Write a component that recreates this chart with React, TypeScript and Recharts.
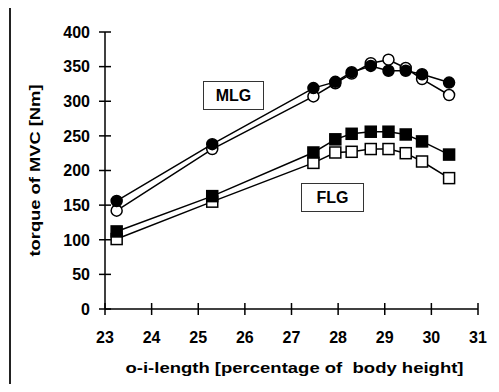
import { LineChart, Line, XAxis, YAxis } from "recharts";

const lengths = [23.25, 25.3, 27.47, 27.94, 28.29, 28.7, 29.08, 29.45, 29.8, 30.38];
const mlgFilled = [156, 238, 319, 328, 342, 351, 344, 344, 339, 327];
const mlgOpen = [142, 231, 307, 326, 340, 355, 360, 348, 332, 309];
const flgFilled = [112, 163, 226, 245, 253, 256, 256, 252, 242, 223];
const flgOpen = [101, 155, 211, 226, 227, 231, 231, 225, 213, 189];
const xTicks = [23, 24, 25, 26, 27, 28, 29, 30, 31];
const yTicks = [0, 50, 100, 150, 200, 250, 300, 350, 400];

const data = lengths.map((x, i) => ({
  x,
  mlgFilled: mlgFilled[i],
  mlgOpen: mlgOpen[i],
  flgFilled: flgFilled[i],
  flgOpen: flgOpen[i],
}));

const FONT = '"Liberation Sans", Arial, sans-serif';

const circleDot = (fill: string) => (props: any) => (
  <circle
    key={props.index}
    cx={props.cx}
    cy={props.cy}
    r={5.5}
    fill={fill}
    stroke="#000"
    strokeWidth={1.5}
  />
);

const squareDot = (fill: string) => (props: any) => (
  <rect
    key={props.index}
    x={props.cx - 5.5}
    y={props.cy - 5.5}
    width={11}
    height={11}
    fill={fill}
    stroke="#000"
    strokeWidth={1.5}
  />
);

const YTick = (props: any) => {
  const { x, y, payload } = props;
  return (
    <g>
      <line x1={x - 6} x2={x + 6} y1={y} y2={y} stroke="#000" strokeWidth={1.5} />
      <text
        x={x - 15}
        y={y}
        dy="0.36em"
        textAnchor="end"
        fontFamily={FONT}
        fontWeight="bold"
        fontSize={16}
        fill="#000"
      >
        {payload.value}
      </text>
    </g>
  );
};

const XTick = (props: any) => {
  const { x, y, payload } = props;
  return (
    <g>
      <line x1={x} x2={x} y1={y - 6} y2={y + 6} stroke="#000" strokeWidth={1.5} />
      <text
        x={x}
        y={y + 34}
        textAnchor="middle"
        fontFamily={FONT}
        fontWeight="bold"
        fontSize={16}
        fill="#000"
      >
        {payload.value}
      </text>
    </g>
  );
};

const boxStyle = {
  position: "absolute" as const,
  border: "1px solid #333",
  background: "#fff",
  fontFamily: FONT,
  fontWeight: "bold" as const,
  fontSize: 16,
  display: "flex",
  alignItems: "center",
  justifyContent: "center",
  boxSizing: "border-box" as const,
};

export default function App() {
  return (
    <div style={{ position: "relative", width: 483, height: 376 }}>
      <div
        style={{
          position: "absolute",
          left: 1,
          top: -2,
          width: 490,
          height: 386,
          borderTop: "2px solid #777",
          borderLeft: "2px solid #222",
          boxSizing: "border-box",
        }}
      />
      <LineChart
        width={483}
        height={376}
        data={data}
        margin={{ top: 24, right: 13, left: 0, bottom: 0 }}
        style={{ position: "absolute", left: 0, top: 0 }}
      >
        <XAxis
          dataKey="x"
          type="number"
          domain={[23, 31]}
          ticks={xTicks}
          height={75}
          tickSize={0}
          tickMargin={0}
          tickLine={false}
          tick={<XTick />}
          axisLine={{ stroke: "#000", strokeWidth: 1.5 }}
          allowDataOverflow
          label={{
            content: (p: any) => (
              <text
                x={p.viewBox.x + p.viewBox.width / 2 + 3}
                y={p.viewBox.y + 64}
                textAnchor="middle"
                fontFamily={FONT}
                fontWeight="bold"
                fontSize={15}
                textLength={338}
                lengthAdjust="spacingAndGlyphs"
                fill="#000"
                style={{ whiteSpace: "pre" }}
                xmlSpace="preserve"
              >
                {"o-i-length [percentage of  body height]"}
              </text>
            ),
          }}
        />
        <YAxis
          type="number"
          domain={[0, 400]}
          ticks={yTicks}
          width={97}
          tickSize={0}
          tickMargin={0}
          tickLine={false}
          tick={<YTick />}
          axisLine={{ stroke: "#000", strokeWidth: 1.5 }}
          label={{
            content: (p: any) => {
              const cx = 27;
              const cy = p.viewBox.y + p.viewBox.height / 2;
              return (
                <text
                  x={cx}
                  y={cy}
                  dy="0.36em"
                  transform={`rotate(-90 ${cx} ${cy})`}
                  textAnchor="middle"
                  fontFamily={FONT}
                  fontWeight="bold"
                  fontSize={15}
                  textLength={172}
                  lengthAdjust="spacingAndGlyphs"
                  fill="#000"
                >
                  torque of MVC [Nm]
                </text>
              );
            },
          }}
        />
        <Line
          dataKey="mlgOpen"
          stroke="#000"
          strokeWidth={1.5}
          dot={circleDot("#fff")}
          isAnimationActive={false}
        />
        <Line
          dataKey="mlgFilled"
          stroke="#000"
          strokeWidth={1.5}
          dot={circleDot("#000")}
          isAnimationActive={false}
        />
        <Line
          dataKey="flgOpen"
          stroke="#000"
          strokeWidth={1.5}
          dot={squareDot("#fff")}
          isAnimationActive={false}
        />
        <Line
          dataKey="flgFilled"
          stroke="#000"
          strokeWidth={1.5}
          dot={squareDot("#000")}
          isAnimationActive={false}
        />
      </LineChart>
      <div style={{ ...boxStyle, left: 195, top: 73, width: 61, height: 29 }}>MLG</div>
      <div style={{ ...boxStyle, left: 293, top: 175, width: 63, height: 29 }}>FLG</div>
    </div>
  );
}
